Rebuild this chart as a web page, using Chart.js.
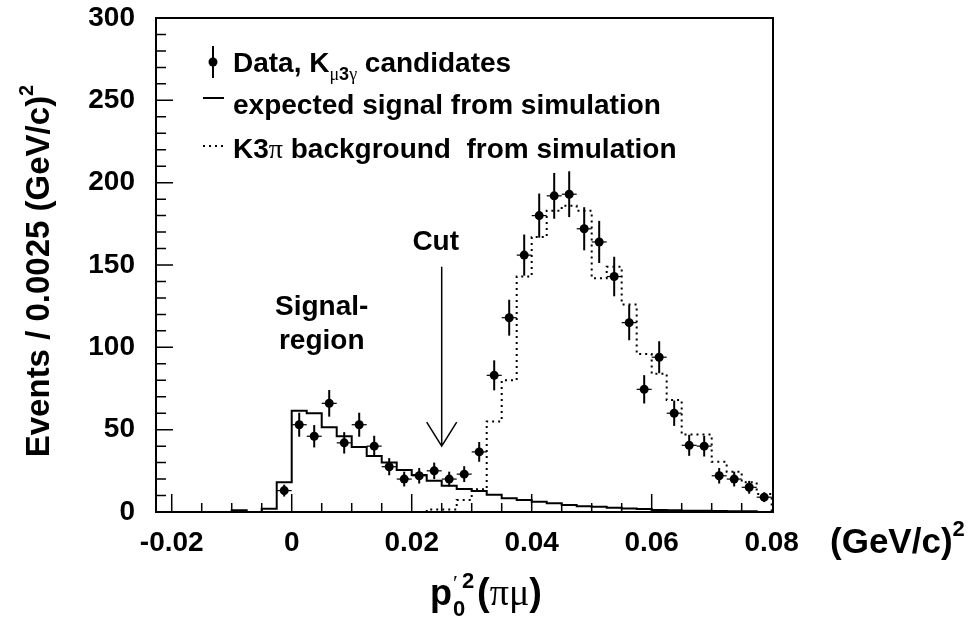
<!DOCTYPE html>
<html>
<head>
<meta charset="utf-8">
<script src="https://cdn.jsdelivr.net/npm/chart.js@4.4.1/dist/chart.umd.min.js"></script>
<style>
html, body { margin: 0; padding: 0; background: #fff; }
canvas { display: block; }
</style>
</head>
<body>
<canvas id="histChart" width="974" height="626"></canvas>
<script>
const binWidth = 0.0025;

// Data, Kmu3gamma candidates (first bin starts at -0.0025)
const dataStart = -0.0025;
const dataCounts = [13, 53, 46, 66, 42, 53, 40, 27.5, 20, 22, 25, 20, 23, 36.5,
    83, 118, 156, 180, 192, 193, 172, 164, 143, 115, 74.5, 94, 60, 40.5, 40, 22, 20, 15, 9];
const dataErrors = [3.6, 7.3, 6.8, 8.1, 6.5, 7.3, 6.3, 5.2, 4.5, 4.7, 5, 4.5, 4.8, 6,
    9.1, 10.9, 12.5, 13.4, 13.9, 13.9, 13.1, 12.8, 12, 10.7, 8.6, 9.7, 7.7, 6.4, 6.3, 4.7, 4.5, 3.9, 3];

// expected signal from simulation (first bin starts at -0.01)
const sigStart = -0.01;
const sigCounts = [1, 0, 2, 18, 61.5, 60, 51.5, 46, 39.5, 34, 30, 25.5, 22.5, 19, 16, 14,
    12.7, 10.5, 8.3, 7.3, 6.3, 5.3, 4.2, 3.5, 3.2, 2.6, 2.2, 1.8, 1.2, 1, 0.8, 0.7, 0.6, 0.5, 0.4];

// K3pi background from simulation (first bin starts at 0.0225)
const bkgStart = 0.0225;
const bkgCounts = [1.5, 1.5, 7.3, 13.8, 55, 80, 143, 167, 183, 186, 183, 142, 149, 126,
    96, 84, 68, 47, 47, 30.5, 24.5, 18, 11];

const xTickValues = [-0.02, 0, 0.02, 0.04, 0.06, 0.08];
const xTickLabels = ['-0.02', '0', '0.02', '0.04', '0.06', '0.08'];
const yTickValues = [0, 50, 100, 150, 200, 250, 300];

const xMin = -0.02262, xMax = 0.08022;
const yMin = 0, yMax = 300;

const cutX = 0.025, cutTop = 149, cutTip = 40;

const sans = '"Liberation Sans", Arial, sans-serif';
const serif = '"Liberation Serif", "DejaVu Serif", serif';
Chart.defaults.font.family = sans;

function steps(start, counts) {
    const pts = [{x: start, y: 0}];
    counts.forEach((n, i) => pts.push({x: start + i * binWidth, y: n}));
    pts.push({x: start + counts.length * binWidth, y: 0});
    return pts;
}

const dataPoints = dataCounts.map((n, i) => ({x: dataStart + (i + 0.5) * binWidth, y: n}));

// draws a run of text pieces (font / offset) one after another
function drawParts(ctx, parts, x, y, align) {
    let total = 0;
    parts.forEach(p => {
        ctx.font = p.font;
        p.w = p.adv !== undefined ? p.adv : ctx.measureText(p.text).width;
        total += p.w;
    });
    let cx = align === 'center' ? x - total / 2 : x;
    parts.forEach(p => {
        ctx.font = p.font;
        ctx.fillText(p.text, cx + (p.dx || 0), y + (p.dy || 0));
        cx += p.w;
    });
}

function noPadding(s) {
    s.paddingLeft = 0;
    s.paddingRight = 0;
    s.paddingTop = 0;
    s.paddingBottom = 0;
}

const errorBars = {
    id: 'errorBars',
    beforeDatasetsDraw(chart) {
        const {ctx, scales: {x, y}} = chart;
        ctx.save();
        ctx.strokeStyle = '#000';
        dataCounts.forEach((n, i) => {
            const c = dataStart + (i + 0.5) * binWidth;
            const px = x.getPixelForValue(c);
            const py = y.getPixelForValue(n);
            ctx.lineWidth = 2;
            ctx.beginPath();
            ctx.moveTo(px, y.getPixelForValue(n - dataErrors[i]));
            ctx.lineTo(px, y.getPixelForValue(n + dataErrors[i]));
            ctx.stroke();
            ctx.lineWidth = 1.2;
            ctx.beginPath();
            ctx.moveTo(x.getPixelForValue(c - binWidth / 2), py);
            ctx.lineTo(x.getPixelForValue(c + binWidth / 2), py);
            ctx.stroke();
        });
        ctx.restore();
    }
};

const frame = {
    id: 'frame',
    afterDatasetsDraw(chart) {
        const {ctx, chartArea: a, scales: {x, y}} = chart;
        ctx.save();
        ctx.strokeStyle = '#000';
        ctx.lineWidth = 1.5;
        ctx.beginPath();
        for (let v = 10; v < yMax; v += 10) {
            const py = y.getPixelForValue(v);
            const len = v % 50 === 0 ? 17 : 10;
            ctx.moveTo(a.left, py);
            ctx.lineTo(a.left + len, py);
        }
        for (let k = -4; k <= 16; k++) {
            const px = x.getPixelForValue(k * 0.005);
            if (px <= a.left + 2 || px >= a.right - 2) continue;
            const len = k % 4 === 0 ? 18 : 9;
            ctx.moveTo(px, a.bottom);
            ctx.lineTo(px, a.bottom - len);
        }
        ctx.stroke();
        ctx.lineWidth = 2;
        ctx.strokeRect(a.left, a.top, a.right - a.left, a.bottom - a.top);
        ctx.restore();
    }
};

const labels = {
    id: 'labels',
    afterDraw(chart) {
        const {ctx, chartArea: a, scales: {x, y}} = chart;
        ctx.save();
        ctx.fillStyle = '#000';
        ctx.strokeStyle = '#000';
        ctx.textBaseline = 'alphabetic';
        const b33 = 'bold 33px ' + sans;
        const b28 = 'bold 28px ' + sans;
        const b20 = 'bold 20px ' + sans;

        // y axis title
        ctx.save();
        ctx.translate(37, (a.top + a.bottom) / 2 + 6);
        ctx.rotate(-Math.PI / 2);
        drawParts(ctx, [
            {text: 'Events / 0.0025 (GeV/c)', font: b33},
            {text: '2', font: b20, dy: -16}
        ], 0, 12, 'center');
        ctx.restore();

        // x axis unit
        drawParts(ctx, [
            {text: '(GeV/c)', font: 'bold 35px ' + sans},
            {text: '2', font: 'bold 22px ' + sans, dy: -17}
        ], 830, 553, 'left');

        // x axis title: p with stacked sub 0 and sup '2, then (pi mu)
        ctx.font = 'bold 36px ' + sans;
        const pw = ctx.measureText('p').width;
        ctx.font = 'bold 38px ' + sans;
        const parW = ctx.measureText('()').width;
        ctx.font = '38px ' + serif;
        const gw = ctx.measureText('\u03c0\u03bc').width;
        const stackW = 24;
        const titleW = pw + 1 + stackW + parW + gw;
        const tx = 486 - titleW / 2, ty = 605;
        ctx.font = 'bold 36px ' + sans;
        ctx.fillText('p', tx, ty);
        let cx = tx + pw + 1;
        ctx.font = 'bold 22px ' + sans;
        ctx.fillText('0', cx, ty + 11);
        ctx.font = '22px ' + serif;
        ctx.fillText('\u2032', cx, ty - 15);
        ctx.font = 'bold 22px ' + sans;
        ctx.fillText('2', cx + 9, ty - 17);
        cx += stackW;
        drawParts(ctx, [
            {text: '(', font: 'bold 38px ' + sans},
            {text: '\u03c0\u03bc', font: '38px ' + serif},
            {text: ')', font: 'bold 38px ' + sans}
        ], cx, ty, 'left');

        // legend
        const lx = 233;
        ctx.lineWidth = 2;
        ctx.beginPath();
        ctx.moveTo(213, 46);
        ctx.lineTo(213, 78);
        ctx.stroke();
        ctx.beginPath();
        ctx.arc(213, 62, 4.5, 0, Math.PI * 2);
        ctx.fill();
        drawParts(ctx, [
            {text: 'Data, K', font: b28},
            {text: '\u03bc', font: '18px ' + serif, dy: 8},
            {text: '3', font: 'bold 18px ' + sans, dy: 8},
            {text: '\u03b3', font: '18px ' + serif, dy: 8},
            {text: ' candidates', font: b28}
        ], lx, 72, 'left');

        ctx.beginPath();
        ctx.moveTo(203, 98);
        ctx.lineTo(224, 98);
        ctx.stroke();
        ctx.font = b28;
        ctx.fillText('expected signal from simulation', lx, 114);

        ctx.setLineDash([2, 4]);
        ctx.beginPath();
        ctx.moveTo(203, 146);
        ctx.lineTo(226, 146);
        ctx.stroke();
        ctx.setLineDash([]);
        drawParts(ctx, [
            {text: 'K3', font: b28},
            {text: '\u03c0', font: '28px ' + serif},
            {text: ' background  from simulation', font: b28}
        ], lx, 158, 'left');

        // annotations
        ctx.font = b28;
        ctx.textAlign = 'center';
        ctx.fillText('Signal-', x.getPixelForValue(0.005), y.getPixelForValue(126) + 10);
        ctx.fillText('region', x.getPixelForValue(0.005), y.getPixelForValue(105) + 10);
        ctx.fillText('Cut', x.getPixelForValue(0.024), y.getPixelForValue(165) + 10);
        ctx.textAlign = 'left';

        const ax = x.getPixelForValue(cutX);
        const aTop = y.getPixelForValue(cutTop);
        const aTip = y.getPixelForValue(cutTip);
        ctx.lineWidth = 1.5;
        ctx.beginPath();
        ctx.moveTo(ax, aTop);
        ctx.lineTo(ax, aTip);
        ctx.moveTo(ax - 15, aTip - 24);
        ctx.lineTo(ax, aTip);
        ctx.lineTo(ax + 15, aTip - 24);
        ctx.stroke();
        ctx.restore();
    }
};

const ctx = document.getElementById('histChart').getContext('2d');

const histChart = new Chart(ctx, {
    type: 'line',
    data: {
        datasets: [{
            label: 'Data',
            data: dataPoints,
            showLine: false,
            pointRadius: 4.5,
            pointHoverRadius: 4.5,
            pointBackgroundColor: '#000',
            pointBorderColor: '#000',
            pointBorderWidth: 0,
            order: 0
        }, {
            label: 'Signal',
            data: steps(sigStart, sigCounts),
            stepped: 'before',
            borderColor: '#000',
            borderWidth: 2,
            pointRadius: 0,
            fill: false,
            order: 1
        }, {
            label: 'Background',
            data: steps(bkgStart, bkgCounts),
            stepped: 'before',
            borderColor: '#000',
            borderWidth: 2,
            borderDash: [2, 4],
            borderCapStyle: 'butt',
            pointRadius: 0,
            fill: false,
            order: 2
        }]
    },
    options: {
        responsive: false,
        animation: false,
        events: [],
        layout: {padding: {top: 18, right: 201, left: 0, bottom: 0}},
        scales: {
            x: {
                type: 'linear',
                min: xMin,
                max: xMax,
                grid: {display: false, drawTicks: false},
                border: {display: false},
                afterBuildTicks: s => { s.ticks = xTickValues.map(v => ({value: v})); },
                afterFit: s => { s.height = 626 - 512; noPadding(s); },
                ticks: {
                    autoSkip: false,
                    maxRotation: 0,
                    minRotation: 0,
                    padding: 14,
                    color: '#000',
                    font: {size: 28, weight: 'bold'},
                    callback: (v, i) => xTickLabels[i]
                }
            },
            y: {
                min: yMin,
                max: yMax,
                grid: {display: false, drawTicks: false},
                border: {display: false},
                afterBuildTicks: s => { s.ticks = yTickValues.map(v => ({value: v})); },
                afterFit: s => { s.width = 156; noPadding(s); },
                ticks: {
                    padding: 21,
                    color: '#000',
                    font: {size: 28, weight: 'bold'},
                    callback: v => String(v)
                }
            }
        },
        plugins: {
            legend: {display: false},
            tooltip: {enabled: false}
        }
    },
    plugins: [errorBars, frame, labels]
});
</script>
</body>
</html>
